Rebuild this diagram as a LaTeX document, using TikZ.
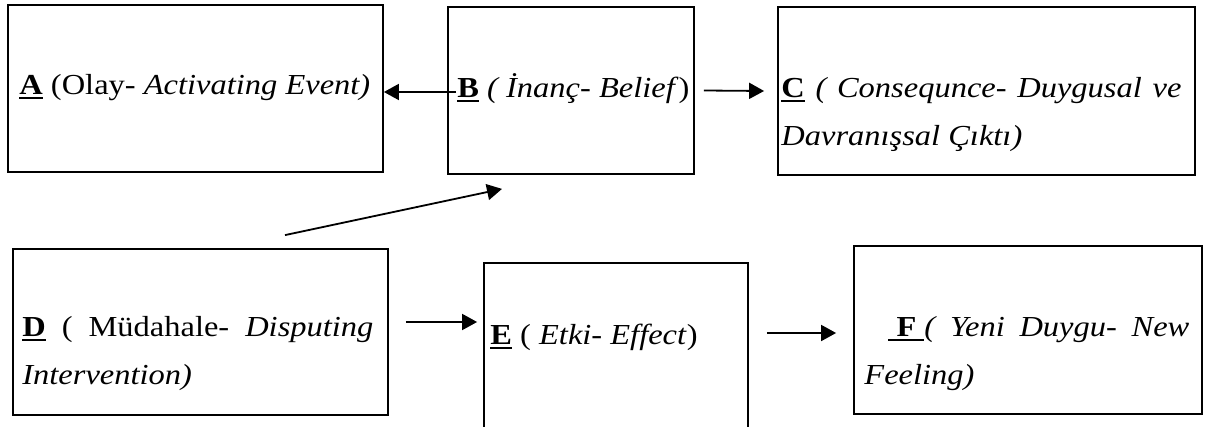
\documentclass[tikz,border=0pt]{standalone}
\usepackage{fontspec}
\setmainfont{Liberation Serif}[FakeStretch=1.12]
\usetikzlibrary{arrows.meta}
\newcommand{\harf}[1]{\setbox0\hbox{\textbf{#1}}\rlap{\rule[-2.2pt]{\wd0}{1.1pt}}\box0\relax}

\begin{document}
\begin{tikzpicture} [ x=0.5pt, y=-0.5pt
					, kasten/.style={rectangle, draw, line width=0.9pt, inner sep=0pt}
					, beschriftung/.style={inner sep=0pt, anchor=north west, font=\fontsize{14.5}{24}\selectfont}
					, absatz/.style={beschriftung, align=justify}
					, pfeilspitze/.style={draw, line width=0.9pt, arrows={-Triangle[length=7.5pt,width=8pt]}}
					]
	\useasboundingbox (0,0) rectangle (1208,427);

	% Kaesten
	\node (Olay) 		[kasten, minimum width=187.5pt, minimum height=83.5pt] at (195.5,88.5) {};
	\node (Inanc) 		[kasten, minimum width=123pt, minimum height=83.5pt] at (571,90.5) {};
	\node (Sonuc) 		[kasten, minimum width=208.5pt, minimum height=84pt] at (986.5,91) {};
	\node (Mudahale) 	[kasten, minimum width=187.5pt, minimum height=83pt] at (200.5,332) {};
	\node (Etki) 		[kasten, minimum width=132pt, minimum height=84.5pt] at (616,347.5) {};
	\node (YeniDuygu) 	[kasten, minimum width=174pt, minimum height=84pt] at (1028,330) {};

	% Texte
	\node (OlayText) 		[beschriftung] at (19,60.4) {\strut\harf{A} (Olay- \textit{Activating Event)}};
	\node (InancText) 		[beschriftung] at (457,63.4) {\strut\harf{B} \textit{( İnanç- Belief})};
	\node (SonucText) 		[absatz, text width=200pt] at (781,63.4) {\noindent\strut\harf{C} \textit{( Consequnce- Duygusal ve Davranışsal Çıktı)}};
	\node (MudahaleText) 	[absatz, text width=175.5pt] at (22,302.4) {\noindent\strut\harf{D} ( Müdahale- \textit{Disputing Intervention)}};
	\node (EtkiText) 		[beschriftung] at (490,310.4) {\strut\harf{E} ( \textit{Etki- Effect})};
	\node (YeniDuyguText) 	[absatz, text width=162.5pt] at (864,302.4) {\noindent\strut\hspace*{12pt}\harf{\ F\ }\textit{( Yeni Duygu- New Feeling)}};

	% Pfeile
	\draw [pfeilspitze] ([xshift=4.5pt,yshift=-0.75pt]Inanc.west) -- ([yshift=-1.75pt]Olay.east);
	\draw [pfeilspitze] ([xshift=4.5pt]Inanc.east) -- ([xshift=-6.5pt]Sonuc.west);
	\draw [pfeilspitze] ([xshift=42.25pt,yshift=6.5pt]Mudahale.north) -- ([xshift=-34.5pt,yshift=-7pt]Inanc.south);
	\draw [pfeilspitze] ([xshift=8.5pt,yshift=5pt]Mudahale.east) -- ([xshift=-3pt,yshift=12.75pt]Etki.west);
	\draw [pfeilspitze] ([xshift=9pt,yshift=7.25pt]Etki.east) -- ([xshift=-8.5pt,yshift=-1.5pt]YeniDuygu.west);

\end{tikzpicture}
\end{document}
